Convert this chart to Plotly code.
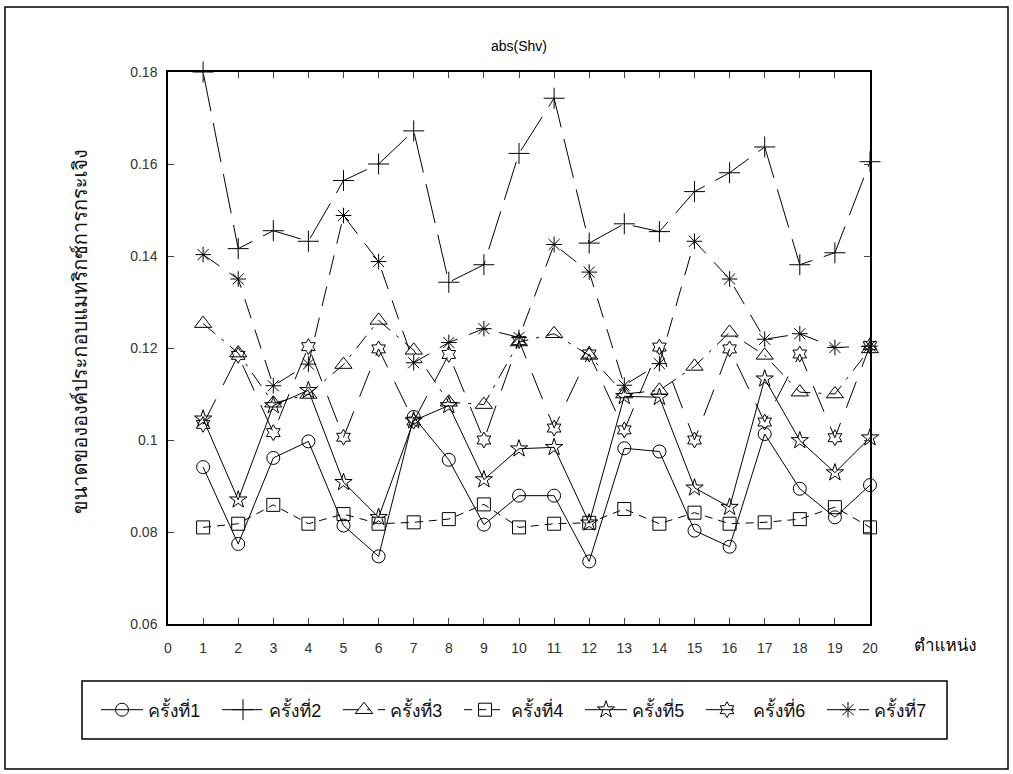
import plotly.graph_objects as go

positions = list(range(1, 21))
series_names = ["ครั้งที่1", "ครั้งที่2", "ครั้งที่3", "ครั้งที่4", "ครั้งที่5", "ครั้งที่6", "ครั้งที่7"]

run1 = [0.0941, 0.0774, 0.0961, 0.0997, 0.0814, 0.0747, 0.1050, 0.0957, 0.0816, 0.0879,
        0.0879, 0.0736, 0.0982, 0.0975, 0.0803, 0.0768, 0.1013, 0.0894, 0.0832, 0.0902]
run2 = [0.1800, 0.1416, 0.1455, 0.1432, 0.1564, 0.1600, 0.1672, 0.1343, 0.1381, 0.1623,
        0.1743, 0.1428, 0.1470, 0.1453, 0.1540, 0.1581, 0.1637, 0.1381, 0.1407, 0.1605]
run3 = [0.1253, 0.1189, 0.1080, 0.1099, 0.1164, 0.1260, 0.1195, 0.1082, 0.1077, 0.1213,
        0.1231, 0.1184, 0.1100, 0.1108, 0.1160, 0.1234, 0.1184, 0.1104, 0.1100, 0.1198]
run4 = [0.0810, 0.0818, 0.0859, 0.0818, 0.0839, 0.0818, 0.0821, 0.0828, 0.0860, 0.0810,
        0.0818, 0.0820, 0.0850, 0.0818, 0.0842, 0.0818, 0.0821, 0.0828, 0.0854, 0.0810]
run5 = [0.1046, 0.0870, 0.1075, 0.1108, 0.0908, 0.0832, 0.1042, 0.1075, 0.0914, 0.0981,
        0.0984, 0.0820, 0.1095, 0.1093, 0.0896, 0.0854, 0.1133, 0.0999, 0.0929, 0.1005]
run6 = [0.1034, 0.1184, 0.1016, 0.1203, 0.1006, 0.1198, 0.1041, 0.1186, 0.1000, 0.1216,
        0.1026, 0.1187, 0.1022, 0.1202, 0.1000, 0.1198, 0.1039, 0.1187, 0.1005, 0.1205]
run7 = [0.1403, 0.1350, 0.1118, 0.1165, 0.1488, 0.1388, 0.1168, 0.1212, 0.1242, 0.1223,
        0.1425, 0.1365, 0.1119, 0.1166, 0.1432, 0.1350, 0.1219, 0.1231, 0.1201, 0.1204]

x_tick_vals = list(range(0, 21))
y_tick_vals = [0.06, 0.08, 0.10, 0.12, 0.14, 0.16, 0.18]
y_tick_text = ["0.06", "0.08", "0.1", "0.12", "0.14", "0.16", "0.18"]

title_text = "abs(Shv)"
x_title = "ตำแหน่ง"
y_title = "ขนาดขององค์ประกอบแมทริกซ์การกระเจิง"

all_runs = [run1, run2, run3, run4, run5, run6, run7]
symbols = ["circle-open", "cross-thin-open", "triangle-up-open", "square-open",
           "star-open", "hexagram-open", "asterisk-open"]
sizes = [13, 15, 15, 13, 13, 12, 13]
dashes = ["solid", "40px,12px", "16px,8px,3px,8px", "8px,6px", "solid", "28px,16px", "20px,12px"]

FONT = "Liberation Sans, Arial, Tahoma, Loma, Noto Sans Thai, sans-serif"

fig = go.Figure()
for name, vals, sym, sz, dsh in zip(series_names, all_runs, symbols, sizes, dashes):
    fig.add_trace(go.Scatter(
        x=positions, y=vals, name=name, mode="lines+markers", cliponaxis=False,
        line=dict(color="black", width=1, dash=dsh),
        marker=dict(symbol=sym, size=sz, color="black", line=dict(color="black", width=1)),
    ))

L, R, T, B = 168, 143, 72, 150
W, H = 1013, 774
pw, ph = W - L - R, H - T - B

def px_x(X):
    return (X - L) / pw

def px_y(Y):
    return (H - B - Y) / ph

fig.update_layout(
    width=W, height=H,
    margin=dict(l=L, r=R, t=T, b=B),
    paper_bgcolor="white", plot_bgcolor="white",
    font=dict(family=FONT, size=14, color="black"),
    showlegend=True,
    legend=dict(
        orientation="h", x=px_x(96), xanchor="left", y=px_y(710), yanchor="middle",
        borderwidth=0, bgcolor="rgba(0,0,0,0)",
        font=dict(family=FONT, size=18, color="#111"),
        itemwidth=42, tracegroupgap=0, entrywidth=64,
    ),
    xaxis=dict(
        range=[0, 20], tickvals=x_tick_vals, ticks="inside", ticklen=6,
        showline=True, linecolor="black", linewidth=1.5, mirror="ticks",
        showgrid=False, zeroline=False, tickfont=dict(size=14, color="#333"),
        ticklabelstandoff=10,
    ),
    yaxis=dict(
        range=[0.06, 0.18], tickvals=y_tick_vals, ticktext=y_tick_text,
        ticks="inside", ticklen=6,
        showline=True, linecolor="black", linewidth=1.5, mirror="ticks",
        showgrid=False, zeroline=False, tickfont=dict(size=14, color="#333"),
        ticklabelstandoff=6,
    ),
    annotations=[
        dict(text=title_text, xref="paper", yref="paper", x=0.5, y=px_y(46),
             showarrow=False, font=dict(size=14), xanchor="center", yanchor="middle"),
        dict(text=x_title, xref="paper", yref="paper", x=px_x(945), y=px_y(645),
             showarrow=False, font=dict(size=17), xanchor="center", yanchor="middle"),
        dict(text=y_title, xref="paper", yref="paper", x=px_x(80), y=px_y(332),
             showarrow=False, font=dict(size=20, color="#111"), textangle=-90,
             xanchor="center", yanchor="middle"),
    ],
    shapes=[
        dict(type="rect", xref="paper", yref="paper",
             x0=px_x(5), x1=px_x(1008), y0=px_y(769), y1=px_y(7),
             line=dict(color="black", width=1.5), fillcolor="rgba(0,0,0,0)", layer="below"),
        dict(type="rect", xref="paper", yref="paper",
             x0=px_x(82), x1=px_x(947), y0=px_y(739), y1=px_y(681),
             line=dict(color="black", width=1.5), fillcolor="rgba(0,0,0,0)", layer="below"),
    ],
)

fig.write_html("out.html", config={"displayModeBar": False},
               post_script="document.body.style.margin='0';document.body.style.overflow='hidden';")
